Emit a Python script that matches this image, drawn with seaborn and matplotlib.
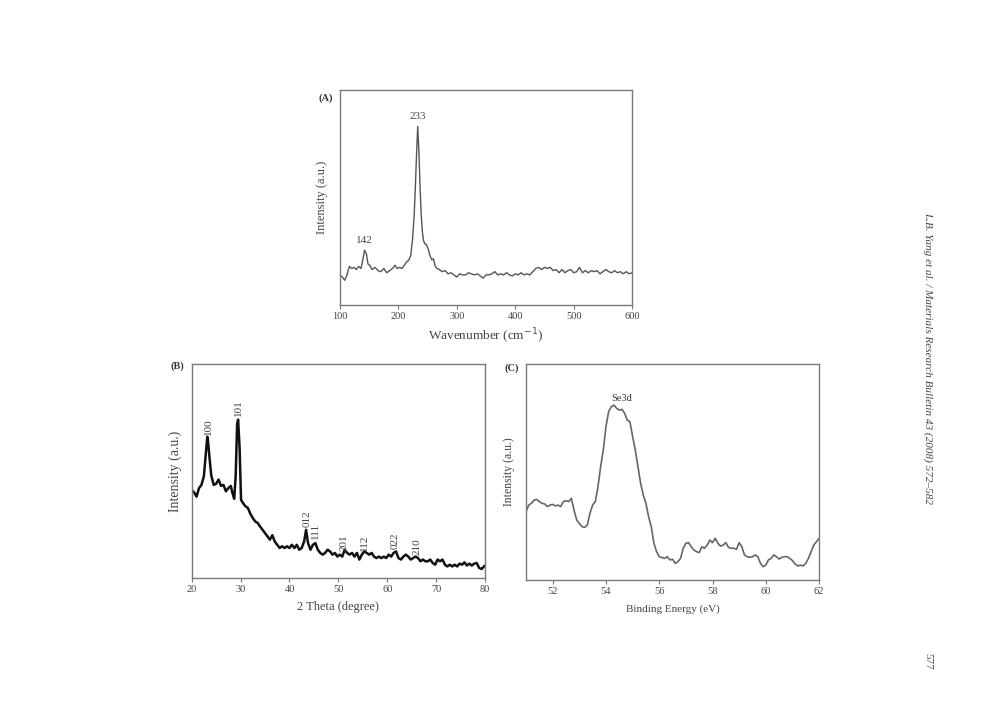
import pandas as pd
import matplotlib
matplotlib.use("Agg")
import matplotlib.pyplot as plt
import seaborn as sns

# (A) Raman spectrum
raman_x = [100, 104, 108, 112, 116, 120, 124, 128, 132, 136, 139, 142, 145, 148, 151, 155,
           160, 165, 170, 175, 180, 185, 190, 194, 198, 202, 206, 210, 214, 218, 221, 224,
           227, 229, 231, 233, 235, 237, 239, 241, 243, 245, 248, 251, 254, 257, 260, 263,
           266, 270, 275, 280, 285, 290, 295, 300, 305, 310, 315, 320, 325, 330, 335, 340,
           345, 350, 355, 360, 365, 370, 375, 380, 385, 390, 395, 400, 405, 410, 415, 420,
           425, 430, 435, 440, 445, 450, 455, 460, 465, 470, 475, 480, 485, 490, 495, 500,
           505, 510, 515, 520, 525, 530, 535, 540, 545, 550, 555, 560, 565, 570, 575, 580,
           585, 590, 595, 600]
raman_y = [14, 13, 11.5, 14, 18, 17, 17.5, 16.5, 18, 17, 21, 25.5, 24, 19, 18.5, 16.5,
           17.5, 16, 15.5, 17, 15, 16, 17, 18.5, 17, 17.5, 17, 18.5, 20, 21, 23, 30,
           42, 55, 70, 83, 72, 55, 42, 34, 30, 28.5, 28, 26, 23, 21, 21.5, 18,
           17, 16.5, 15.5, 16, 14.5, 15, 14, 13, 14.5, 14, 14, 15, 14.5, 14, 14.5, 13.5,
           12.5, 14, 14, 14.5, 15.5, 14, 14.5, 14, 15, 14, 13.5, 14.5, 14, 15, 14, 14.5,
           14, 15.5, 17, 17.5, 16.5, 17.5, 17, 17.5, 16, 16.5, 15, 16.5, 15, 16, 16.5, 15,
           15.5, 17.5, 15, 16, 15, 16, 15.5, 16, 14.5, 15.5, 16.5, 15.5, 15, 16, 15, 15.5,
           14.5, 15.5, 14.5, 15]
raman_peaks = [142, 233]
raman_peak_y = [30, 87.5]

# (B) XRD pattern
xrd_x = [20, 20.5, 21, 21.5, 22, 22.5, 23, 23.2, 23.3, 23.7, 24, 24.5, 25, 25.5, 26, 26.5,
         27, 27.5, 28, 28.3, 28.7, 29, 29.3, 29.5, 29.8, 30.1, 30.5, 31, 31.5, 32, 32.5, 33,
         33.5, 34, 34.5, 35, 35.5, 36, 36.5, 37, 37.5, 38, 38.5, 39, 39.5, 40, 40.5, 41,
         41.5, 42, 42.5, 43, 43.4, 43.8, 44.3, 44.8, 45.3, 45.8, 46.3, 46.8, 47.3, 47.8, 48.3,
         48.8, 49.3, 49.8, 50.3, 50.8, 51.3, 51.8, 52.3, 52.8, 53.3, 53.8, 54.3, 54.8, 55.3,
         55.8, 56.3, 56.8, 57.3, 57.8, 58.3, 58.8, 59.3, 59.8, 60.3, 60.8, 61.3, 61.8, 62.3,
         62.8, 63.3, 63.8, 64.3, 64.8, 65.3, 65.8, 66.3, 66.8, 67.3, 67.8, 68.3, 68.8, 69.3,
         69.8, 70.3, 70.8, 71.3, 71.8, 72.3, 72.8, 73.3, 73.8, 74.3, 74.8, 75.3, 75.8, 76.3,
         76.8, 77.3, 77.8, 78.3, 78.8, 79.3, 79.8, 80]
xrd_y = [41, 40, 38, 42, 43.5, 47.5, 61, 66, 65, 55, 48, 43.5, 44, 46, 43, 43.5,
         40.5, 42, 43, 40, 37, 47.5, 72, 74, 61, 36.5, 35, 33.5, 32.7, 30, 28, 26.4,
         25.7, 24, 22.5, 21, 19.4, 17.9, 20, 17, 15.5, 14, 14.8, 14, 14.8, 14, 15.5, 14,
         15.5, 13.2, 14, 17, 22.5, 16.3, 13.2, 15.5, 16.3, 13.2, 11.7, 10.9, 11.7, 13.2, 12.4,
         10.9, 11.7, 10, 10.9, 10, 13.2, 11.7, 10.9, 11.7, 10, 11.7, 8.6, 10.9, 12.4,
         11.7, 10.9, 11.7, 10, 9.3, 10, 9.3, 10, 9.3, 10.9, 10, 11.7, 12.4, 9.3,
         8.6, 10, 10.9, 10, 8.6, 9.3, 10, 9.3, 7.8, 8.6, 7.8, 7.8, 8.6, 7,
         6.2, 8.6, 7.8, 8.6, 6.2, 5.4, 6.2, 5.4, 6.2, 5.4, 6.7, 6.2, 7.3, 5.8,
         6.7, 5.8, 6.7, 7, 4.7, 4.2, 5.4, 5.8]
xrd_hkl = ["100", "101", "012", "111", "201", "112", "022", "210"]
xrd_hkl_x = [23.5, 29.6, 43.6, 45.3, 51.1, 55.3, 61.7, 66.1]
xrd_hkl_y = [67, 75.5, 24, 18, 12.5, 12.5, 13.5, 10.5]

# (C) XPS Se3d
xps_x = [51.0, 51.1, 51.2, 51.3, 51.4, 51.5, 51.6, 51.7, 51.8, 51.9, 52.0, 52.1, 52.2, 52.3,
         52.4, 52.5, 52.6, 52.7, 52.8, 52.9, 53.0, 53.1, 53.2, 53.3, 53.4, 53.5, 53.6, 53.7,
         53.8, 53.9, 54.0, 54.1, 54.2, 54.3, 54.4, 54.5, 54.6, 54.7, 54.8, 54.9, 55.0, 55.1,
         55.2, 55.3, 55.4, 55.5, 55.6, 55.7, 55.8, 55.9, 56.0, 56.2, 56.3, 56.4, 56.5, 56.6,
         56.7, 56.8, 56.9, 57.0, 57.1, 57.2, 57.3, 57.4, 57.5, 57.6, 57.7, 57.8, 57.9, 58.0,
         58.1, 58.2, 58.3, 58.4, 58.5, 58.6, 58.7, 58.8, 58.9, 59.0, 59.1, 59.2, 59.3, 59.4,
         59.5, 59.6, 59.7, 59.8, 59.9, 60.0, 60.1, 60.2, 60.3, 60.4, 60.5, 60.6, 60.7, 60.8,
         60.9, 61.0, 61.1, 61.2, 61.3, 61.4, 61.5, 61.6, 61.7, 61.8, 61.9, 62.0]
xps_y = [31.6, 34.7, 35.5, 37, 37.3, 36.3, 35.5, 35.2, 34, 34.7, 35, 34.3, 34.7, 34,
         36.3, 36.7, 36.3, 37.8, 32.4, 27.8, 26.2, 24.7, 24.4, 25.5, 30.9, 34.7, 36.3, 43.2,
         52.5, 60.2, 71, 78, 80.2, 81, 79.5, 78.7, 79, 77.2, 74, 73.3, 66.4, 60.2,
         52.5, 44.8, 39.4, 35.5, 29.3, 24.7, 17, 13.1, 10.8, 10, 10.8, 9.3, 9.6, 7.7,
         8.5, 10, 14.7, 17, 17.3, 15.4, 13.9, 13.1, 12.7, 15.4, 14.7, 16.2, 18.5, 17.3,
         19.3, 17, 15.7, 16.2, 17.3, 15.1, 14.7, 14.7, 14.2, 17.3, 15.4, 11.6, 10.8, 10.5,
         10.8, 11.6, 10.8, 7.7, 6.2, 6.9, 9.3, 10, 11.6, 10.8, 9.7, 10.5, 10.8, 10.8,
         10, 9, 7.4, 6.5, 6.9, 6.5, 7.7, 10, 13.1, 16.2, 17.7, 19.3]

sns.set_theme(style="ticks")
plt.rcParams['font.family'] = ['Liberation Serif', 'DejaVu Serif']

txt = "#444444"
frame = "#7a7a7a"

fig = plt.figure(figsize=(9.89, 7.25), dpi=100)
fig.patch.set_facecolor("white")

ax_a = fig.add_axes([0.3438, 0.5793, 0.2953, 0.2966])
ax_b = fig.add_axes([0.1938, 0.2028, 0.2966, 0.2952])
ax_c = fig.add_axes([0.5319, 0.2000, 0.2963, 0.2979])

df_a = pd.DataFrame({"x": raman_x, "y": raman_y})
df_b = pd.DataFrame({"x": xrd_x, "y": xrd_y})
df_c = pd.DataFrame({"x": xps_x, "y": xps_y})

sns.lineplot(data=df_a, x="x", y="y", ax=ax_a, color="#555555", lw=1.0)
sns.lineplot(data=df_b, x="x", y="y", ax=ax_b, color="#111111", lw=1.8)
sns.lineplot(data=df_c, x="x", y="y", ax=ax_c, color="#666666", lw=1.2)

ax_a.set_xlim(100, 600)
ax_b.set_xlim(20, 80)
ax_c.set_xlim(51, 62)
for ax in (ax_a, ax_b, ax_c):
    ax.set_ylim(0, 100)
    ax.set_yticks([])
    for s in ax.spines.values():
        s.set_color(frame)
        s.set_linewidth(1.0)
    ax.tick_params(axis="x", colors=frame, labelcolor=txt, labelsize=7.5,
                   length=3, width=0.8, direction="out", pad=2)

ax_a.set_xticks([100, 200, 300, 400, 500, 600])
ax_b.set_xticks([20, 30, 40, 50, 60, 70, 80])
ax_c.set_xticks([52, 54, 56, 58, 60, 62])

ax_a.set_xlabel("Wavenumber (cm$^{-1}$)", fontsize=9.5, color=txt, labelpad=4)
ax_b.set_xlabel("2 Theta (degree)", fontsize=9, color=txt, labelpad=5)
ax_c.set_xlabel("Binding Energy (eV)", fontsize=8, color=txt, labelpad=6)
ax_a.set_ylabel("Intensity (a.u.)", fontsize=9, color=txt, labelpad=9)
ax_b.set_ylabel("Intensity (a.u.)", fontsize=10, color=txt, labelpad=7)
ax_c.set_ylabel("Intensity (a.u.)", fontsize=8.5, color=txt, labelpad=8)

ax_a.text(-0.05, 0.96, "(A)", transform=ax_a.transAxes, fontsize=7.5, color="#333333",
          ha="center", va="center", weight="bold")
ax_b.text(-0.05, 0.99, "(B)", transform=ax_b.transAxes, fontsize=7.5, color="#333333",
          ha="center", va="center", weight="bold")
ax_c.text(-0.05, 0.98, "(C)", transform=ax_c.transAxes, fontsize=7.5, color="#333333",
          ha="center", va="center", weight="bold")

for px, py in zip(raman_peaks, raman_peak_y):
    ax_a.text(px, py, str(px), fontsize=8, color=txt, ha="center", va="center")

for lab, px, py in zip(xrd_hkl, xrd_hkl_x, xrd_hkl_y):
    ax_b.text(px, py, lab, fontsize=8, color=txt, ha="center", va="bottom", rotation=90)

ax_c.text(54.6, 84, "Se3d", fontsize=7.5, color="#333333", ha="center", va="center")

fig.text(0.9385, 0.506, "L.B. Yang et al. / Materials Research Bulletin 43 (2008) 572\u2013582",
         rotation=-90, fontsize=8, style="italic", color=txt, ha="center", va="center")
fig.text(0.9385, 0.088, "577", rotation=-90, fontsize=8, color=txt, ha="center", va="center")

fig.savefig("out.png", dpi=100, facecolor="white")
